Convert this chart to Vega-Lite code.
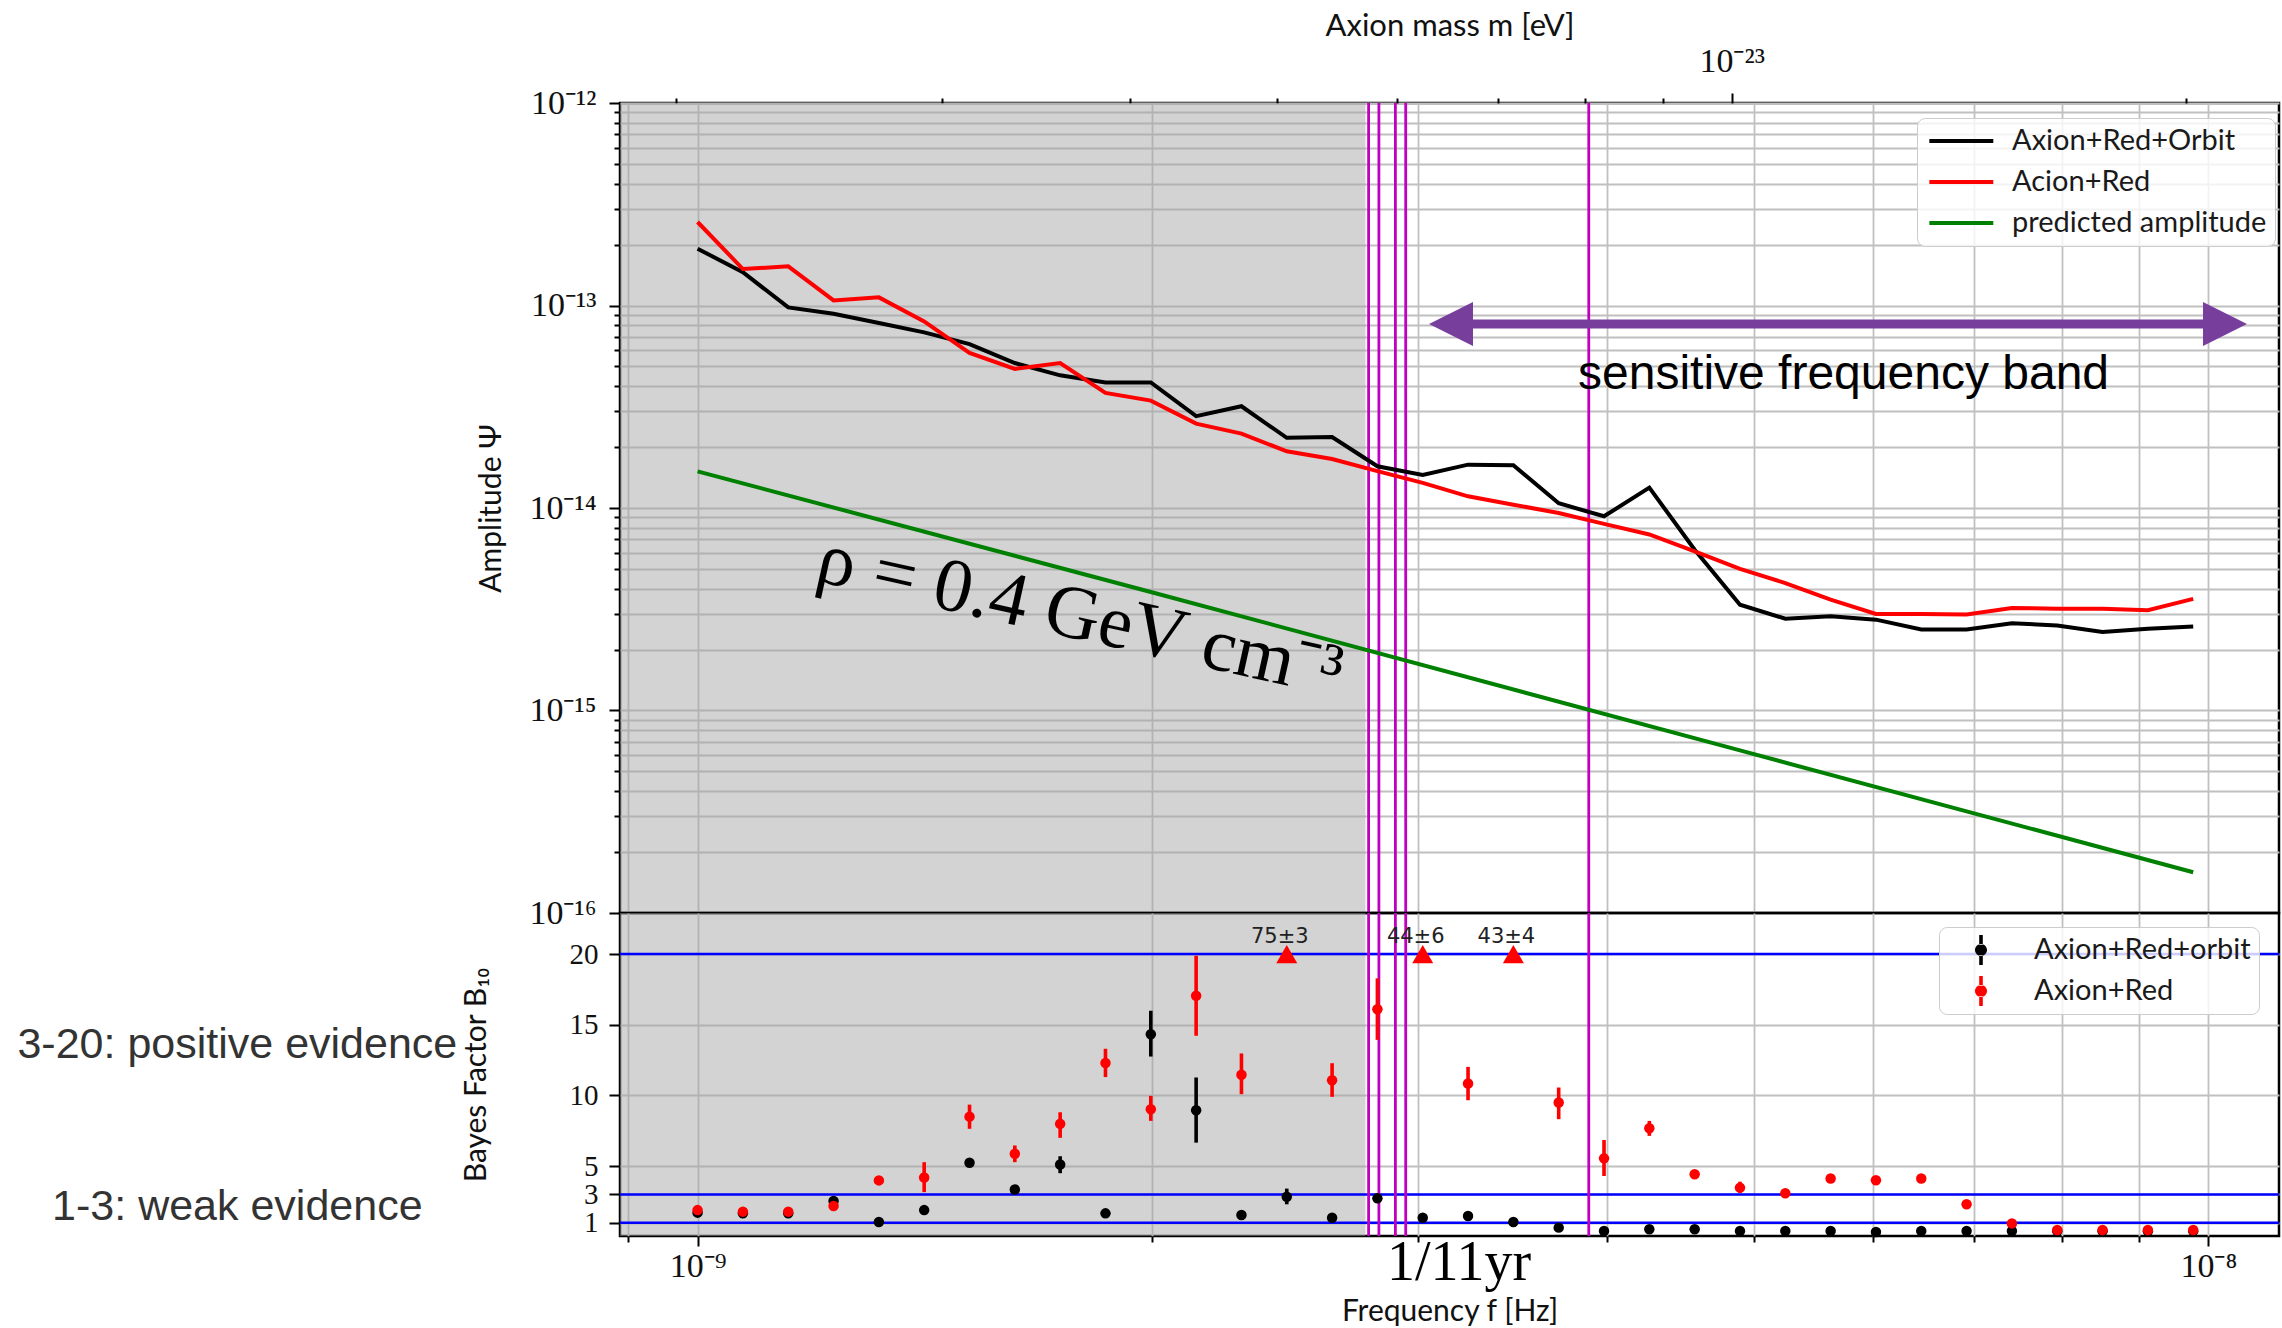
{
  "$schema": "https://vega.github.io/schema/vega-lite/v6.json",
  "background": "white",
  "padding": {"left": 16, "top": 8, "right": 0, "bottom": 0},
  "spacing": 0,
  "bounds": "flush",
  "config": {
    "view": {"stroke": "black", "strokeWidth": 2.5},
    "axis": {
      "gridColor": "#c0c0c0", "gridWidth": 1.8, "gridOpacity": 1,
      "tickColor": "black", "tickWidth": 2, "domain": false,
      "labelFont": "Liberation Serif", "labelFontSize": 32, "labelColor": "#111111",
      "labelOverlap": false, "labelFlush": false,
      "titleFont": "Lato", "titleFontSize": 30, "titleFontWeight": "normal", "titleColor": "#111111"
    },
    "legend": {
      "orient": "none", "padding": 8, "cornerRadius": 8, "strokeColor": "#cccccc",
      "fillColor": "rgba(255,255,255,0.8)", "labelFont": "Lato", "labelFontSize": 29,
      "labelColor": "#1a1a1a", "labelLimit": 600
    }
  },
  "datasets": {
    "region": [{"f0": 8.8e-10, "f1": 2.7676e-9}],
    "mag": [{"f": 2.7808e-9}, {"f": 2.8248e-9}, {"f": 2.8967e-9}, {"f": 2.9426e-9}, {"f": 3.8896e-9}],
    "levels": [{"B": 1}, {"B": 3}, {"B": 20}],
    "arrow": [{"f_start": 3.153e-9, "f_end": 1.0258e-8, "amp": 8.1e-14}],
    "heads": [{"f": 3.153e-9, "amp": 8.1e-14, "dir": "left"}, {"f": 1.0258e-8, "amp": 8.1e-14, "dir": "right"}],
    "band_label": [{"f": 5.735e-9, "amp": 3.87e-14, "text": "sensitive frequency band"}],
    "rho_label": [{"f": 1.7915e-9, "amp": 2.926e-15, "text": "ρ = 0.4 GeV cm⁻³"}],
    "mass": [{"m": 1e-23}],
    "notes": [{"f": 4.9585e-10, "B": 13.57, "text": "3-20: positive evidence"}, {"f": 4.9585e-10, "B": 2.13, "text": "1-3: weak evidence"}],
    "yr": [{"f": 3.192e-9, "B": -1.85, "text": "1/11yr"}],
    "offscale": [{"f": 2.4547e-9, "B": 20, "label": "75±3"}, {"f": 3.02e-9, "B": 20, "label": "44±6"}, {"f": 3.4674e-9, "B": 20, "label": "43±4"}],
    "lines": [
      {"f": 1e-9, "series": "Axion+Red+Orbit", "amp": 1.908e-13},
      {"f": 1.0715e-9, "series": "Axion+Red+Orbit", "amp": 1.459e-13},
      {"f": 1.1482e-9, "series": "Axion+Red+Orbit", "amp": 9.79e-14},
      {"f": 1.2303e-9, "series": "Axion+Red+Orbit", "amp": 9.11e-14},
      {"f": 1.3183e-9, "series": "Axion+Red+Orbit", "amp": 8.2e-14},
      {"f": 1.4125e-9, "series": "Axion+Red+Orbit", "amp": 7.37e-14},
      {"f": 1.5136e-9, "series": "Axion+Red+Orbit", "amp": 6.45e-14},
      {"f": 1.6218e-9, "series": "Axion+Red+Orbit", "amp": 5.2e-14},
      {"f": 1.7378e-9, "series": "Axion+Red+Orbit", "amp": 4.52e-14},
      {"f": 1.8621e-9, "series": "Axion+Red+Orbit", "amp": 4.17e-14},
      {"f": 1.9953e-9, "series": "Axion+Red+Orbit", "amp": 4.17e-14},
      {"f": 2.138e-9, "series": "Axion+Red+Orbit", "amp": 2.84e-14},
      {"f": 2.2909e-9, "series": "Axion+Red+Orbit", "amp": 3.18e-14},
      {"f": 2.4547e-9, "series": "Axion+Red+Orbit", "amp": 2.22e-14},
      {"f": 2.6303e-9, "series": "Axion+Red+Orbit", "amp": 2.24e-14},
      {"f": 2.8184e-9, "series": "Axion+Red+Orbit", "amp": 1.607e-14},
      {"f": 3.02e-9, "series": "Axion+Red+Orbit", "amp": 1.455e-14},
      {"f": 3.2359e-9, "series": "Axion+Red+Orbit", "amp": 1.637e-14},
      {"f": 3.4674e-9, "series": "Axion+Red+Orbit", "amp": 1.625e-14},
      {"f": 3.7154e-9, "series": "Axion+Red+Orbit", "amp": 1.055e-14},
      {"f": 3.9811e-9, "series": "Axion+Red+Orbit", "amp": 9.1e-15},
      {"f": 4.2658e-9, "series": "Axion+Red+Orbit", "amp": 1.26e-14},
      {"f": 4.5709e-9, "series": "Axion+Red+Orbit", "amp": 6.22e-15},
      {"f": 4.8978e-9, "series": "Axion+Red+Orbit", "amp": 3.33e-15},
      {"f": 5.2481e-9, "series": "Axion+Red+Orbit", "amp": 2.84e-15},
      {"f": 5.6234e-9, "series": "Axion+Red+Orbit", "amp": 2.92e-15},
      {"f": 6.0256e-9, "series": "Axion+Red+Orbit", "amp": 2.81e-15},
      {"f": 6.4565e-9, "series": "Axion+Red+Orbit", "amp": 2.51e-15},
      {"f": 6.9183e-9, "series": "Axion+Red+Orbit", "amp": 2.51e-15},
      {"f": 7.4131e-9, "series": "Axion+Red+Orbit", "amp": 2.7e-15},
      {"f": 7.9433e-9, "series": "Axion+Red+Orbit", "amp": 2.63e-15},
      {"f": 8.5114e-9, "series": "Axion+Red+Orbit", "amp": 2.44e-15},
      {"f": 9.1201e-9, "series": "Axion+Red+Orbit", "amp": 2.53e-15},
      {"f": 9.7724e-9, "series": "Axion+Red+Orbit", "amp": 2.6e-15},
      {"f": 1e-9, "series": "Acion+Red", "amp": 2.584e-13},
      {"f": 1.0715e-9, "series": "Acion+Red", "amp": 1.514e-13},
      {"f": 1.1482e-9, "series": "Acion+Red", "amp": 1.561e-13},
      {"f": 1.2303e-9, "series": "Acion+Red", "amp": 1.06e-13},
      {"f": 1.3183e-9, "series": "Acion+Red", "amp": 1.097e-13},
      {"f": 1.4125e-9, "series": "Acion+Red", "amp": 8.35e-14},
      {"f": 1.5136e-9, "series": "Acion+Red", "amp": 5.83e-14},
      {"f": 1.6218e-9, "series": "Acion+Red", "amp": 4.86e-14},
      {"f": 1.7378e-9, "series": "Acion+Red", "amp": 5.2e-14},
      {"f": 1.8621e-9, "series": "Acion+Red", "amp": 3.7e-14},
      {"f": 1.9953e-9, "series": "Acion+Red", "amp": 3.39e-14},
      {"f": 2.138e-9, "series": "Acion+Red", "amp": 2.61e-14},
      {"f": 2.2909e-9, "series": "Acion+Red", "amp": 2.33e-14},
      {"f": 2.4547e-9, "series": "Acion+Red", "amp": 1.905e-14},
      {"f": 2.6303e-9, "series": "Acion+Red", "amp": 1.745e-14},
      {"f": 2.8184e-9, "series": "Acion+Red", "amp": 1.52e-14},
      {"f": 3.02e-9, "series": "Acion+Red", "amp": 1.33e-14},
      {"f": 3.2359e-9, "series": "Acion+Red", "amp": 1.142e-14},
      {"f": 3.4674e-9, "series": "Acion+Red", "amp": 1.038e-14},
      {"f": 3.7154e-9, "series": "Acion+Red", "amp": 9.45e-15},
      {"f": 3.9811e-9, "series": "Acion+Red", "amp": 8.35e-15},
      {"f": 4.2658e-9, "series": "Acion+Red", "amp": 7.4e-15},
      {"f": 4.5709e-9, "series": "Acion+Red", "amp": 6.11e-15},
      {"f": 4.8978e-9, "series": "Acion+Red", "amp": 5.01e-15},
      {"f": 5.2481e-9, "series": "Acion+Red", "amp": 4.26e-15},
      {"f": 5.6234e-9, "series": "Acion+Red", "amp": 3.53e-15},
      {"f": 6.0256e-9, "series": "Acion+Red", "amp": 3.0e-15},
      {"f": 6.4565e-9, "series": "Acion+Red", "amp": 3.0e-15},
      {"f": 6.9183e-9, "series": "Acion+Red", "amp": 2.98e-15},
      {"f": 7.4131e-9, "series": "Acion+Red", "amp": 3.21e-15},
      {"f": 7.9433e-9, "series": "Acion+Red", "amp": 3.18e-15},
      {"f": 8.5114e-9, "series": "Acion+Red", "amp": 3.18e-15},
      {"f": 9.1201e-9, "series": "Acion+Red", "amp": 3.13e-15},
      {"f": 9.7724e-9, "series": "Acion+Red", "amp": 3.56e-15},
      {"f": 1e-9, "series": "predicted amplitude", "amp": 1.517e-14},
      {"f": 1.9953e-9, "series": "predicted amplitude", "amp": 3.85e-15},
      {"f": 4.8978e-9, "series": "predicted amplitude", "amp": 6.35e-16},
      {"f": 9.7724e-9, "series": "predicted amplitude", "amp": 1.589e-16}
    ],
    "bayes": [
      {"f": 1e-9, "model": "Axion+Red+orbit", "B": 1.71, "lo": 1.71, "hi": 1.71},
      {"f": 1.0715e-9, "model": "Axion+Red+orbit", "B": 1.66, "lo": 1.66, "hi": 1.66},
      {"f": 1.1482e-9, "model": "Axion+Red+orbit", "B": 1.66, "lo": 1.66, "hi": 1.66},
      {"f": 1.2303e-9, "model": "Axion+Red+orbit", "B": 2.53, "lo": 2.3, "hi": 2.75},
      {"f": 1.3183e-9, "model": "Axion+Red+orbit", "B": 1.05, "lo": 1.05, "hi": 1.05},
      {"f": 1.4125e-9, "model": "Axion+Red+orbit", "B": 1.89, "lo": 1.89, "hi": 1.89},
      {"f": 1.5136e-9, "model": "Axion+Red+orbit", "B": 5.24, "lo": 5.24, "hi": 5.24},
      {"f": 1.6218e-9, "model": "Axion+Red+orbit", "B": 3.35, "lo": 3.35, "hi": 3.35},
      {"f": 1.7378e-9, "model": "Axion+Red+orbit", "B": 5.12, "lo": 4.5, "hi": 5.7},
      {"f": 1.8621e-9, "model": "Axion+Red+orbit", "B": 1.66, "lo": 1.66, "hi": 1.66},
      {"f": 1.9953e-9, "model": "Axion+Red+orbit", "B": 14.33, "lo": 12.75, "hi": 15.99},
      {"f": 2.138e-9, "model": "Axion+Red+orbit", "B": 8.95, "lo": 6.66, "hi": 11.27},
      {"f": 2.2909e-9, "model": "Axion+Red+orbit", "B": 1.54, "lo": 1.54, "hi": 1.54},
      {"f": 2.4547e-9, "model": "Axion+Red+orbit", "B": 2.84, "lo": 2.3, "hi": 3.41},
      {"f": 2.6303e-9, "model": "Axion+Red+orbit", "B": 1.35, "lo": 1.35, "hi": 1.35},
      {"f": 2.8184e-9, "model": "Axion+Red+orbit", "B": 2.72, "lo": 2.72, "hi": 2.72},
      {"f": 3.02e-9, "model": "Axion+Red+orbit", "B": 1.35, "lo": 1.35, "hi": 1.35},
      {"f": 3.2359e-9, "model": "Axion+Red+orbit", "B": 1.47, "lo": 1.47, "hi": 1.47},
      {"f": 3.4674e-9, "model": "Axion+Red+orbit", "B": 1.05, "lo": 1.05, "hi": 1.05},
      {"f": 3.7154e-9, "model": "Axion+Red+orbit", "B": 0.65, "lo": 0.65, "hi": 0.65},
      {"f": 3.9811e-9, "model": "Axion+Red+orbit", "B": 0.41, "lo": 0.41, "hi": 0.41},
      {"f": 4.2658e-9, "model": "Axion+Red+orbit", "B": 0.53, "lo": 0.53, "hi": 0.53},
      {"f": 4.5709e-9, "model": "Axion+Red+orbit", "B": 0.53, "lo": 0.53, "hi": 0.53},
      {"f": 4.8978e-9, "model": "Axion+Red+orbit", "B": 0.41, "lo": 0.41, "hi": 0.41},
      {"f": 5.2481e-9, "model": "Axion+Red+orbit", "B": 0.41, "lo": 0.41, "hi": 0.41},
      {"f": 5.6234e-9, "model": "Axion+Red+orbit", "B": 0.41, "lo": 0.41, "hi": 0.41},
      {"f": 6.0256e-9, "model": "Axion+Red+orbit", "B": 0.34, "lo": 0.34, "hi": 0.34},
      {"f": 6.4565e-9, "model": "Axion+Red+orbit", "B": 0.41, "lo": 0.41, "hi": 0.41},
      {"f": 6.9183e-9, "model": "Axion+Red+orbit", "B": 0.41, "lo": 0.41, "hi": 0.41},
      {"f": 7.4131e-9, "model": "Axion+Red+orbit", "B": 0.41, "lo": 0.41, "hi": 0.41},
      {"f": 7.9433e-9, "model": "Axion+Red+orbit", "B": 0.4, "lo": 0.4, "hi": 0.4},
      {"f": 8.5114e-9, "model": "Axion+Red+orbit", "B": 0.4, "lo": 0.4, "hi": 0.4},
      {"f": 9.1201e-9, "model": "Axion+Red+orbit", "B": 0.4, "lo": 0.4, "hi": 0.4},
      {"f": 9.7724e-9, "model": "Axion+Red+orbit", "B": 0.4, "lo": 0.4, "hi": 0.4},
      {"f": 1e-9, "model": "Axion+Red", "B": 1.89, "lo": 1.89, "hi": 1.89},
      {"f": 1.0715e-9, "model": "Axion+Red", "B": 1.78, "lo": 1.78, "hi": 1.78},
      {"f": 1.1482e-9, "model": "Axion+Red", "B": 1.78, "lo": 1.78, "hi": 1.78},
      {"f": 1.2303e-9, "model": "Axion+Red", "B": 2.18, "lo": 2.18, "hi": 2.18},
      {"f": 1.3183e-9, "model": "Axion+Red", "B": 3.99, "lo": 3.99, "hi": 3.99},
      {"f": 1.4125e-9, "model": "Axion+Red", "B": 4.2, "lo": 3.16, "hi": 5.28},
      {"f": 1.5136e-9, "model": "Axion+Red", "B": 8.5, "lo": 7.64, "hi": 9.35},
      {"f": 1.6218e-9, "model": "Axion+Red", "B": 5.87, "lo": 5.28, "hi": 6.46},
      {"f": 1.7378e-9, "model": "Axion+Red", "B": 7.99, "lo": 7.0, "hi": 8.81},
      {"f": 1.8621e-9, "model": "Axion+Red", "B": 12.29, "lo": 11.3, "hi": 13.3},
      {"f": 1.9953e-9, "model": "Axion+Red", "B": 9.02, "lo": 8.2, "hi": 9.97},
      {"f": 2.138e-9, "model": "Axion+Red", "B": 17.05, "lo": 14.22, "hi": 19.88},
      {"f": 2.2909e-9, "model": "Axion+Red", "B": 11.46, "lo": 10.09, "hi": 12.97},
      {"f": 2.6303e-9, "model": "Axion+Red", "B": 11.08, "lo": 9.9, "hi": 12.28},
      {"f": 2.8184e-9, "model": "Axion+Red", "B": 16.1, "lo": 13.93, "hi": 18.28},
      {"f": 3.2359e-9, "model": "Axion+Red", "B": 10.84, "lo": 9.66, "hi": 12.02},
      {"f": 3.7154e-9, "model": "Axion+Red", "B": 9.5, "lo": 8.32, "hi": 10.56},
      {"f": 3.9811e-9, "model": "Axion+Red", "B": 5.55, "lo": 4.3, "hi": 6.85},
      {"f": 4.2658e-9, "model": "Axion+Red", "B": 7.68, "lo": 7.14, "hi": 8.2},
      {"f": 4.5709e-9, "model": "Axion+Red", "B": 4.42, "lo": 4.42, "hi": 4.42},
      {"f": 4.8978e-9, "model": "Axion+Red", "B": 3.48, "lo": 3.1, "hi": 3.9},
      {"f": 5.2481e-9, "model": "Axion+Red", "B": 3.08, "lo": 3.08, "hi": 3.08},
      {"f": 5.6234e-9, "model": "Axion+Red", "B": 4.12, "lo": 4.12, "hi": 4.12},
      {"f": 6.0256e-9, "model": "Axion+Red", "B": 4.0, "lo": 4.0, "hi": 4.0},
      {"f": 6.4565e-9, "model": "Axion+Red", "B": 4.12, "lo": 4.12, "hi": 4.12},
      {"f": 6.9183e-9, "model": "Axion+Red", "B": 2.3, "lo": 2.3, "hi": 2.3},
      {"f": 7.4131e-9, "model": "Axion+Red", "B": 0.95, "lo": 0.95, "hi": 0.95},
      {"f": 7.9433e-9, "model": "Axion+Red", "B": 0.48, "lo": 0.48, "hi": 0.48},
      {"f": 8.5114e-9, "model": "Axion+Red", "B": 0.48, "lo": 0.48, "hi": 0.48},
      {"f": 9.1201e-9, "model": "Axion+Red", "B": 0.48, "lo": 0.48, "hi": 0.48},
      {"f": 9.7724e-9, "model": "Axion+Red", "B": 0.48, "lo": 0.48, "hi": 0.48}
    ]
  },
  "resolve": {
    "scale": {"x": "independent", "y": "independent", "color": "independent"},
    "axis": {"x": "independent", "y": "independent"},
    "legend": {"color": "independent"}
  },
  "vconcat": [
    {
      "width": 1659,
      "height": 810,
      "resolve": {"scale": {"x": "independent"}, "axis": {"x": "independent"}},
      "layer": [
        {
          "layer": [
            {
              "data": {"name": "region"},
              "mark": {"type": "rect", "color": "#a3a3a3", "opacity": 0.476, "clip": true},
              "encoding": {
                "x": {
                  "field": "f0", "type": "quantitative",
                  "scale": {"type": "log", "domain": [8.8848e-10, 1.11376e-8], "nice": false},
                  "axis": {"values": [9e-10, 1e-9, 2e-9, 3e-9, 4e-9, 5e-9, 6e-9, 7e-9, 8e-9, 9e-9, 1e-8], "grid": true, "ticks": false, "labels": false, "title": null}
                },
                "x2": {"field": "f1"}
              }
            },
            {
              "data": {"name": "mag"},
              "mark": {"type": "rule", "color": "#c000c0", "strokeWidth": 2.8},
              "encoding": {"x": {"field": "f", "type": "quantitative"}}
            },
            {
              "data": {"name": "lines"},
              "mark": {"type": "line", "strokeWidth": 4, "clip": true},
              "encoding": {
                "x": {"field": "f", "type": "quantitative"},
                "y": {
                  "field": "amp", "type": "quantitative",
                  "scale": {"type": "log", "domain": [1e-16, 1e-12], "nice": false},
                  "axis": {
                    "values": [1e-16, 2e-16, 3e-16, 4e-16, 5e-16, 6e-16, 7e-16, 8e-16, 9e-16, 1e-15, 2e-15, 3e-15, 4e-15, 5e-15, 6e-15, 7e-15, 8e-15, 9e-15, 1e-14, 2e-14, 3e-14, 4e-14, 5e-14, 6e-14, 7e-14, 8e-14, 9e-14, 1e-13, 2e-13, 3e-13, 4e-13, 5e-13, 6e-13, 7e-13, 8e-13, 9e-13, 1e-12],
                    "labelExpr": "datum.value == 1e-12 ? '10⁻¹²' : datum.value == 1e-13 ? '10⁻¹³' : datum.value == 1e-14 ? '10⁻¹⁴' : datum.value == 1e-15 ? '10⁻¹⁵' : datum.value == 1e-16 ? '10⁻¹⁶' : ''",
                    "tickSize": {"condition": {"test": "datum.value == 1e-12 || datum.value == 1e-13 || datum.value == 1e-14 || datum.value == 1e-15 || datum.value == 1e-16", "value": 11}, "value": 6},
                    "labelFontSize": 34,
                    "labelPadding": 13,
                    "grid": true,
                    "title": "Amplitude Ψ",
                    "titlePadding": 22
                  }
                },
                "color": {
                  "field": "series", "type": "nominal",
                  "scale": {"domain": ["Axion+Red+Orbit", "Acion+Red", "predicted amplitude"], "range": ["#000000", "#ff0000", "#008000"]},
                  "legend": {"title": null, "legendX": 1297, "legendY": 15, "symbolType": "M-0.82,0L4.1,0", "symbolSize": 676, "symbolStrokeWidth": 4, "labelOffset": 57, "rowPadding": 11}
                }
              }
            },
            {
              "data": {"name": "arrow"},
              "mark": {"type": "rule", "color": "#773f9b", "strokeWidth": 9},
              "encoding": {
                "x": {"field": "f_start", "type": "quantitative"},
                "x2": {"field": "f_end"},
                "y": {"field": "amp", "type": "quantitative"}
              }
            },
            {
              "data": {"name": "heads"},
              "mark": {"type": "point", "filled": true, "opacity": 1, "size": 1936, "color": "#773f9b", "strokeWidth": 0},
              "encoding": {
                "x": {"field": "f", "type": "quantitative"},
                "y": {"field": "amp", "type": "quantitative"},
                "shape": {"field": "dir", "type": "nominal", "scale": {"domain": ["left", "right"], "range": ["M-1,0L1,-1L1,1Z", "M1,0L-1,-1L-1,1Z"]}, "legend": null}
              }
            },
            {
              "data": {"name": "band_label"},
              "mark": {"type": "text", "font": "Liberation Sans", "fontSize": 48, "color": "black", "align": "center", "baseline": "alphabetic"},
              "encoding": {
                "x": {"field": "f", "type": "quantitative"},
                "y": {"field": "amp", "type": "quantitative"},
                "text": {"field": "text"}
              }
            },
            {
              "data": {"name": "rho_label"},
              "mark": {"type": "text", "font": "Liberation Serif", "fontSize": 76, "color": "black", "align": "center", "baseline": "middle", "angle": 12.5},
              "encoding": {
                "x": {"field": "f", "type": "quantitative"},
                "y": {"field": "amp", "type": "quantitative"},
                "text": {"field": "text"}
              }
            }
          ]
        },
        {
          "data": {"name": "mass"},
          "mark": {"type": "point", "opacity": 0},
          "encoding": {
            "x": {
              "field": "m", "type": "quantitative",
              "scale": {"type": "log", "domain": [1.83722e-24, 2.30306e-23], "nice": false},
              "axis": {
                "orient": "top",
                "values": [2e-24, 3e-24, 4e-24, 5e-24, 6e-24, 7e-24, 8e-24, 9e-24, 1e-23, 2e-23],
                "labelExpr": "datum.value == 1e-23 ? '10⁻²³' : ''",
                "tickSize": {"condition": {"test": "datum.value == 1e-23", "value": 10}, "value": 5},
                "grid": false,
                "labelFontSize": 34,
                "labelPadding": 15,
                "title": "Axion mass m [eV]",
                "titleFontSize": 31,
                "titlePadding": 2
              }
            }
          }
        }
      ]
    },
    {
      "width": 1659,
      "height": 323,
      "layer": [
        {
          "data": {"name": "region"},
          "mark": {"type": "rect", "color": "#a3a3a3", "opacity": 0.476, "clip": true},
          "encoding": {
            "x": {
              "field": "f0", "type": "quantitative",
              "scale": {"type": "log", "domain": [8.8848e-10, 1.11376e-8], "nice": false},
              "axis": {
                "values": [9e-10, 1e-9, 2e-9, 3e-9, 4e-9, 5e-9, 6e-9, 7e-9, 8e-9, 9e-9, 1e-8],
                "grid": true,
                "labelExpr": "datum.value == 1e-9 ? '10⁻⁹' : datum.value == 1e-8 ? '10⁻⁸' : ''",
                "tickSize": {"condition": {"test": "datum.value == 1e-9 || datum.value == 1e-8", "value": 10}, "value": 6},
                "labelFontSize": 34,
                "labelPadding": 3,
                "title": "Frequency f [Hz]",
                "titleFontSize": 30,
                "titlePadding": 13
              }
            },
            "x2": {"field": "f1"}
          }
        },
        {
          "data": {"name": "levels"},
          "mark": {"type": "rule", "color": "#0000ff", "strokeWidth": 2.5},
          "encoding": {"y": {"field": "B", "type": "quantitative"}}
        },
        {
          "data": {"name": "mag"},
          "mark": {"type": "rule", "color": "#c000c0", "strokeWidth": 2.8},
          "encoding": {"x": {"field": "f", "type": "quantitative"}}
        },
        {
          "data": {"name": "bayes"},
          "mark": {"type": "rule", "strokeWidth": 3.6},
          "encoding": {
            "x": {"field": "f", "type": "quantitative"},
            "y": {"field": "lo", "type": "quantitative"},
            "y2": {"field": "hi"},
            "color": {"field": "model", "type": "nominal", "scale": {"domain": ["Axion+Red+orbit", "Axion+Red"], "range": ["#000000", "#ff0000"]}}
          }
        },
        {
          "data": {"name": "bayes"},
          "mark": {"type": "point", "filled": true, "opacity": 1, "size": 110, "strokeWidth": 0},
          "encoding": {
            "x": {"field": "f", "type": "quantitative"},
            "y": {
              "field": "B", "type": "quantitative",
              "scale": {"domain": [0.058, 22.904], "nice": false, "zero": false},
              "axis": {"values": [1, 3, 5, 10, 15, 20], "grid": true, "tickSize": 11, "labelFontSize": 29, "labelPadding": 11, "title": "Bayes Factor B₁₀", "titlePadding": 78}
            },
            "color": {
              "field": "model", "type": "nominal",
              "scale": {"domain": ["Axion+Red+orbit", "Axion+Red"], "range": ["#000000", "#ff0000"]},
              "legend": {"title": null, "legendX": 1319, "legendY": 14, "symbolType": "M0.867,0A0.4,0.4,0,1,0,1.667,0A0.4,0.4,0,1,0,0.867,0Z M1.147,-1L1.387,-1L1.387,-0.35L1.147,-0.35Z M1.147,0.35L1.387,0.35L1.387,1L1.147,1Z", "symbolSize": 900, "symbolStrokeWidth": 0, "labelOffset": 57, "rowPadding": 11}
            }
          }
        },
        {
          "data": {"name": "offscale"},
          "mark": {"type": "point", "shape": "triangle-up", "filled": true, "opacity": 1, "size": 441, "color": "#ff0000", "strokeWidth": 0},
          "encoding": {
            "x": {"field": "f", "type": "quantitative"},
            "y": {"field": "B", "type": "quantitative"}
          }
        },
        {
          "data": {"name": "offscale"},
          "mark": {"type": "text", "font": "DejaVu Sans", "fontSize": 21, "color": "#222222", "align": "center", "baseline": "alphabetic", "dx": -7, "dy": -11},
          "encoding": {
            "x": {"field": "f", "type": "quantitative"},
            "y": {"field": "B", "type": "quantitative"},
            "text": {"field": "label"}
          }
        },
        {
          "data": {"name": "notes"},
          "mark": {"type": "text", "font": "Liberation Sans", "fontSize": 43, "color": "#333333", "align": "center", "baseline": "middle"},
          "encoding": {
            "x": {"field": "f", "type": "quantitative"},
            "y": {"field": "B", "type": "quantitative"},
            "text": {"field": "text"}
          }
        },
        {
          "data": {"name": "yr"},
          "mark": {"type": "text", "font": "Liberation Serif", "fontSize": 56, "color": "black", "align": "center", "baseline": "middle"},
          "encoding": {
            "x": {"field": "f", "type": "quantitative"},
            "y": {"field": "B", "type": "quantitative"},
            "text": {"field": "text"}
          }
        }
      ]
    }
  ]
}
